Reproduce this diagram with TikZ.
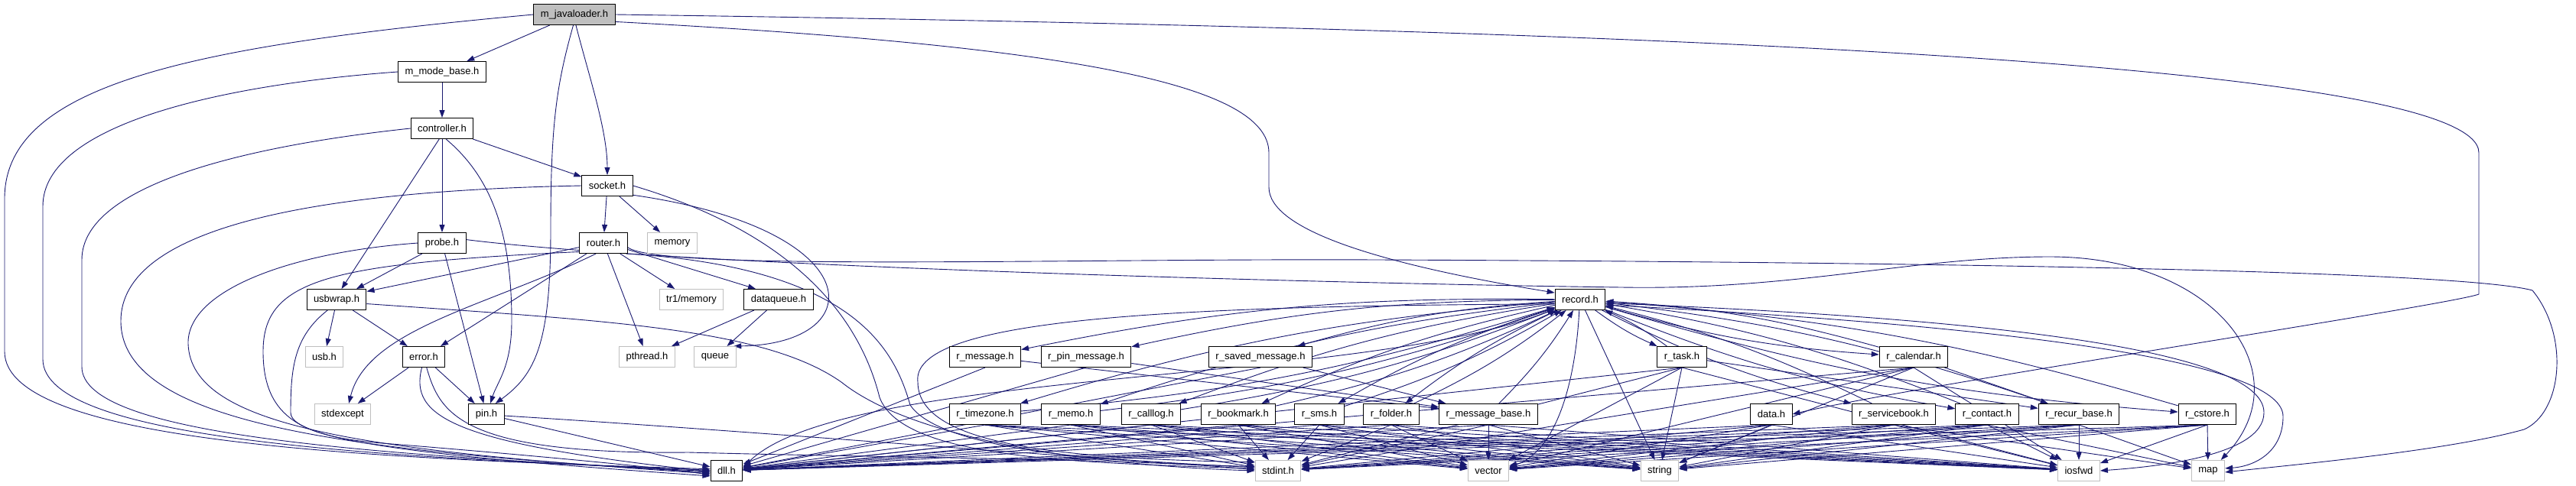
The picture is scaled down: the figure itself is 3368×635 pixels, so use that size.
\documentclass[tikz,border=0pt]{standalone}
\usepackage{fontspec}
\setmainfont{Liberation Sans}
\usetikzlibrary{arrows.meta}
\definecolor{edgeblue}{HTML}{191970}
\definecolor{sysgray}{HTML}{BFBFBF}
\pgfdeclarelayer{edges}
\pgfsetlayers{edges,main}
\tikzset{
  hdr/.style={draw=black, fill=white, line width=1pt, inner xsep=9pt, inner ysep=0pt,
    minimum height=27pt, font=\fontsize{13}{15}\selectfont},
  sys/.style={hdr, draw=sysgray},
  mainhdr/.style={hdr, fill=sysgray},
  dep/.style={draw=edgeblue, line width=0.9pt, -{Triangle[length=10pt,width=7pt]}},
}
\begin{document}
\begin{tikzpicture}[x=1pt,y=-1pt]
\useasboundingbox (0,0) rectangle (3368,635);

% headers, rank by rank
\node[mainhdr] (jav) at (751,19) {m\_javaloader.h};
\node[hdr] (mode) at (578,94) {m\_mode\_base.h};
\node[hdr] (ctrl) at (578,168) {controller.h};
\node[hdr] (sock) at (794,243) {socket.h};
\node[hdr] (probe) at (578,318) {probe.h};
\node[hdr] (router) at (789,318) {router.h};
\node[sys] (memory) at (879,318) {memory};
\node[hdr] (usbwrap) at (440,392) {usbwrap.h};
\node[sys] (tr1) at (904,392) {tr1/memory};
\node[hdr] (dq) at (1018,392) {dataqueue.h};
\node[hdr] (record) at (2066,392) {record.h};
\node[sys] (usb) at (424,467) {usb.h};
\node[hdr] (error) at (554,467) {error.h};
\node[sys] (pthread) at (846,467) {pthread.h};
\node[sys] (queue) at (935,467) {queue};
\node[hdr] (rmsg) at (1288,467) {r\_message.h};
\node[hdr] (rpin) at (1420,467) {r\_pin\_message.h};
\node[hdr] (rsaved) at (1648,467) {r\_saved\_message.h};
\node[hdr] (rtask) at (2199,467) {r\_task.h};
\node[hdr] (rcal) at (2502,467) {r\_calendar.h};
\node[sys] (stdexcept) at (448,542) {stdexcept};
\node[hdr] (pin) at (636,542) {pin.h};
\node[hdr] (rtz) at (1288,542) {r\_timezone.h};
\node[hdr] (rmemo) at (1400,542) {r\_memo.h};
\node[hdr] (rcalllog) at (1505,542) {r\_calllog.h};
\node[hdr] (rbook) at (1619,542) {r\_bookmark.h};
\node[hdr] (rsms) at (1725,542) {r\_sms.h};
\node[hdr] (rfolder) at (1819,542) {r\_folder.h};
\node[hdr] (rmb) at (1946,542) {r\_message\_base.h};
\node[hdr] (data) at (2316,542) {data.h};
\node[hdr] (rsb) at (2476,542) {r\_servicebook.h};
\node[hdr] (rcontact) at (2598,542) {r\_contact.h};
\node[hdr] (rrecur) at (2718,542) {r\_recur\_base.h};
\node[hdr] (rcstore) at (2886,542) {r\_cstore.h};
\node[hdr] (dll) at (950,616) {dll.h};
\node[sys] (stdint) at (1671,616) {stdint.h};
\node[sys] (vector) at (1946,616) {vector};
\node[sys] (string) at (2170,616) {string};
\node[sys] (iosfwd) at (2718,616) {iosfwd};
\node[sys] (map) at (2887,616) {map};

\begin{pgfonlayer}{edges}
% m_javaloader.h
\draw[dep] (jav.west) .. controls (250,60) and (6,110) .. (6,260) -- (6,460) .. controls (6,580) and (480,600) .. (dll.174);
\draw[dep] (jav) -- (mode);
\draw[dep] (jav.-96) .. controls (728,110) and (720,160) .. (720,300) .. controls (720,450) and (700,490) .. (pin.50);
\draw[dep] (jav.-82) .. controls (770,100) and (794,170) .. (sock);
\draw[dep] (jav.-10) .. controls (1400,60) and (1659,110) .. (1659,200) -- (1659,245) .. controls (1659,300) and (1800,345) .. (record.165);
\draw[dep] (jav.east) .. controls (2300,40) and (3241,90) .. (3241,200) -- (3241,385) .. controls (3200,400) and (2500,505) .. (data.east);

% m_mode_base.h, controller.h
\draw[dep] (mode) -- (ctrl);
\draw[dep] (mode.west) .. controls (300,110) and (56,160) .. (56,270) -- (56,470) .. controls (56,575) and (480,598) .. (dll.178);
\draw[dep] (ctrl) -- (sock);
\draw[dep] (ctrl) -- (probe);
\draw[dep] (ctrl.-105) -- (usbwrap.65);
\draw[dep] (ctrl.-70) .. controls (640,230) and (669,300) .. (669,420) .. controls (669,480) and (650,500) .. (pin.70);
\draw[dep] (ctrl.west) .. controls (330,190) and (107,240) .. (107,340) -- (107,480) .. controls (107,570) and (480,595) .. (dll.182);

% socket.h
\draw[dep] (sock) -- (router);
\draw[dep] (sock) -- (memory);
\draw[dep] (sock.-20) .. controls (1140,300) and (1140,450) .. (queue.30);
\draw[dep] (sock.east) .. controls (1020,300) and (1120,400) .. (1150,520) .. controls (1180,600) and (1400,605) .. (stdint.175);
\draw[dep] (sock.west) .. controls (400,250) and (158,300) .. (158,420) .. controls (158,560) and (480,592) .. (dll.186);

% probe.h
\draw[dep] (probe) -- (usbwrap);
\draw[dep] (probe) -- (pin);
\draw[dep] (probe.west) .. controls (380,330) and (244,380) .. (246,450) .. controls (250,560) and (480,590) .. (dll.190);
\draw[dep] (probe.8) .. controls (900,350) and (1800,372) .. (2120,376) .. controls (2350,380) and (2500,336) .. (2680,336) .. controls (2900,336) and (3010,490) .. (map.40);

% router.h
\draw[dep] (router.190) -- (usbwrap.15);
\draw[dep] (router) -- (error);
\draw[dep] (router.235) .. controls (640,400) and (480,430) .. (stdexcept.60);
\draw[dep] (router) -- (tr1);
\draw[dep] (router) -- (pthread);
\draw[dep] (router.-15) -- (dq.155);
\draw[dep] (router.200) .. controls (430,345) and (344,365) .. (344,460) .. controls (344,550) and (400,572) .. (500,580) .. controls (650,592) and (850,610) .. (dll.194);
\draw[dep] (router.-25) .. controls (1120,350) and (1170,460) .. (1190,530) .. controls (1230,590) and (1450,605) .. (stdint.170);
\draw[dep] (router.-10) .. controls (860,355) and (1400,338) .. (1800,340) .. controls (2300,342) and (3200,350) .. (3311,380) .. controls (3360,440) and (3350,540) .. (3300,562) .. controls (3200,590) and (3000,608) .. (map.-5);

% usbwrap.h, error.h, pin.h, dataqueue.h
\draw[dep] (usbwrap.-100) -- (usb);
\draw[dep] (usbwrap) -- (error);
\draw[dep] (usbwrap.-130) .. controls (385,440) and (380,480) .. (380,540) .. controls (380,580) and (600,600) .. (dll.198);
\draw[dep] (usbwrap.-8) .. controls (800,420) and (1000,430) .. (1100,500) .. controls (1200,580) and (1450,610) .. (stdint.180);
\draw[dep] (error) -- (stdexcept);
\draw[dep] (error) -- (pin);
\draw[dep] (error.-100) .. controls (535,545) and (590,580) .. (dll.183);
\draw[dep] (error.-75) .. controls (575,540) and (600,595) .. (900,592) .. controls (1200,600) and (1500,600) .. (stdint.178);
\draw[dep] (pin) -- (dll);
\draw[dep] (pin.-5) .. controls (1000,565) and (1400,600) .. (stdint.172);
\draw[dep] (dq) -- (pthread);
\draw[dep] (dq) -- (queue);

% record.h and the record types
\foreach \dst in {rmsg,rpin,rsaved,rtz,rmemo,rcalllog,rbook,rsms,rfolder,rtask,rcal,rsb,rcontact,rcstore}
  \draw[dep] (record) to[bend right=6] (\dst);
\foreach \src in {rtz,rmemo,rcalllog,rbook,rsms,rfolder,rmb,rtask,rcal,rsb,rcontact,rrecur,rcstore}
  \draw[dep] (\src) to[bend right=6] (record);
\foreach \src in {rmsg,rpin,rsaved}
  {\draw[dep] (\src) -- (rmb); \draw[dep] (\src.south) -- (dll);}
\draw[dep] (rtask) -- (rrecur);
\draw[dep] (rcal) -- (rrecur);

% system headers
\foreach \src in {rtz,rmemo,rcalllog,rbook,rsms,rfolder,rmb,rtask,rcal,data,rsb,rcontact,rrecur,rcstore}
  \foreach \dst in {dll,stdint,vector,string,iosfwd}
    \draw[dep] (\src.south) -- (\dst);
\foreach \src in {rsb,rcontact,rrecur,rcstore}
  \draw[dep] (\src.south) -- (map);
\draw[dep] (record.200) .. controls (1800,505) and (1100,480) .. (dll.10);
\draw[dep] (record.190) .. controls (1500,400) and (1190,420) .. (1200,500) .. controls (1200,585) and (1400,600) .. (stdint.160);
\draw[dep] (record.-95) .. controls (2060,500) and (2035,590) .. (vector.10);
\draw[dep] (record) -- (string);
\draw[dep] (record.-8) .. controls (2700,420) and (2960,470) .. (2960,540) .. controls (2960,600) and (2800,612) .. (iosfwd.east);
\draw[dep] (record.-12) .. controls (2700,430) and (2985,480) .. (2985,545) .. controls (2985,590) and (2950,610) .. (map.8);
\end{pgfonlayer}
\end{tikzpicture}
\end{document}
